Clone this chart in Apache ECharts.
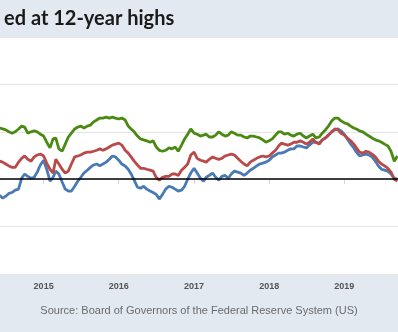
<!DOCTYPE html>
<html>
<head>
<meta charset="utf-8">
<script src="https://cdn.jsdelivr.net/npm/echarts@6/dist/echarts.min.js"></script>
<style>
html,body{margin:0;padding:0;background:#e2e9f1;}
#c{width:398px;height:332px;}
</style>
</head>
<body>
<div id="c"></div>
<script>
var titleText = 'ed at 12-year highs';
var sourceText = 'Source: Board of Governors of the Federal Reserve System (US)';
var yearLabels = ['2015','2016','2017','2018','2019'];

var dates = [
 '2014-06-01','2014-06-16','2014-07-01','2014-07-16','2014-08-01','2014-08-16','2014-09-01','2014-09-16','2014-10-01','2014-10-16','2014-11-01','2014-11-16','2014-12-01','2014-12-16',
 '2015-01-01','2015-01-16','2015-02-01','2015-02-16','2015-03-01','2015-03-16','2015-04-01','2015-04-16','2015-05-01','2015-05-16','2015-06-01','2015-06-16','2015-07-01','2015-07-16','2015-08-01','2015-08-16','2015-09-01','2015-09-16','2015-10-01','2015-10-16','2015-11-01','2015-11-16','2015-12-01','2015-12-16',
 '2016-01-01','2016-01-16','2016-02-01','2016-02-16','2016-03-01','2016-03-16','2016-04-01','2016-04-16','2016-05-01','2016-05-16','2016-06-01','2016-06-16','2016-07-01','2016-07-16','2016-08-01','2016-08-16','2016-09-01','2016-09-16','2016-10-01','2016-10-16','2016-11-01','2016-11-16','2016-12-01','2016-12-16',
 '2017-01-01','2017-01-16','2017-02-01','2017-02-16','2017-03-01','2017-03-16','2017-04-01','2017-04-16','2017-05-01','2017-05-16','2017-06-01','2017-06-16','2017-07-01','2017-07-16','2017-08-01','2017-08-16','2017-09-01','2017-09-16','2017-10-01','2017-10-16','2017-11-01','2017-11-16','2017-12-01','2017-12-16',
 '2018-01-01','2018-01-16','2018-02-01','2018-02-16','2018-03-01','2018-03-16','2018-04-01','2018-04-16','2018-05-01','2018-05-16','2018-06-01','2018-06-16','2018-07-01','2018-07-16','2018-08-01','2018-08-16','2018-09-01','2018-09-16','2018-10-01','2018-10-16','2018-11-01','2018-11-16','2018-12-01','2018-12-16',
 '2019-01-01','2019-01-16','2019-02-01','2019-02-16','2019-03-01','2019-03-16','2019-04-01','2019-04-16','2019-05-01','2019-05-16','2019-06-01','2019-06-16','2019-07-01','2019-07-16','2019-08-01','2019-08-16','2019-09-01','2019-09-16'
];

var greenValues = [
 1.08,1.06,1.04,1.00,0.97,1.00,1.06,1.12,1.10,0.97,1.00,1.02,1.00,0.95,
 0.91,0.78,0.66,0.85,0.87,0.64,0.59,0.74,0.89,0.97,1.06,1.10,1.12,1.08,1.12,1.14,1.21,1.25,1.29,1.29,1.31,1.29,1.31,1.29,
 1.27,1.29,1.25,1.12,1.06,1.00,0.91,0.85,0.83,0.81,0.78,0.81,0.68,0.61,0.59,0.61,0.66,0.64,0.68,0.59,0.72,0.85,0.95,1.06,
 0.97,0.95,0.91,0.93,0.95,0.89,0.89,0.93,1.00,0.95,0.91,0.93,1.00,0.97,0.93,0.93,0.89,0.87,0.91,0.91,0.89,0.87,0.83,0.78,
 0.81,0.85,0.93,1.00,1.00,0.95,0.97,0.93,0.91,0.95,0.97,0.91,0.87,0.91,0.95,0.87,0.89,0.97,1.04,1.12,1.23,1.29,1.29,1.23,
 1.19,1.17,1.12,1.08,1.06,1.02,1.00,0.95,0.91,0.87,0.83,0.81,0.78,0.74,0.70,0.59,0.38,0.49
];

var redValues = [
 0.38,0.36,0.32,0.28,0.25,0.25,0.36,0.44,0.49,0.42,0.38,0.47,0.51,0.53,
 0.49,0.34,0.21,0.13,0.42,0.32,0.21,0.13,0.17,0.32,0.47,0.49,0.51,0.55,0.57,0.57,0.59,0.61,0.64,0.61,0.64,0.68,0.72,0.74,
 0.76,0.72,0.61,0.55,0.47,0.38,0.30,0.23,0.23,0.21,0.19,0.17,0.04,-0.02,0.04,0.06,0.06,0.11,0.11,0.08,0.19,0.25,0.32,0.51,
 0.57,0.44,0.40,0.38,0.36,0.42,0.47,0.44,0.42,0.44,0.49,0.51,0.53,0.51,0.44,0.38,0.32,0.28,0.36,0.40,0.44,0.47,0.49,0.47,
 0.49,0.55,0.61,0.70,0.76,0.74,0.72,0.74,0.78,0.78,0.81,0.78,0.74,0.78,0.85,0.78,0.74,0.83,0.87,0.93,1.00,1.06,1.04,0.97,
 0.93,0.87,0.81,0.74,0.66,0.57,0.55,0.59,0.57,0.53,0.47,0.38,0.32,0.28,0.23,0.15,0.00,-0.04
];

var blueValues = [
 -0.34,-0.40,-0.36,-0.30,-0.28,-0.23,-0.21,0.02,0.11,0.06,0.02,0.04,0.15,0.30,
 0.40,0.21,-0.04,0.04,0.17,0.11,-0.06,-0.21,-0.25,-0.25,-0.15,-0.04,0.04,0.13,0.19,0.25,0.30,0.32,0.28,0.32,0.36,0.42,0.49,0.47,
 0.40,0.32,0.28,0.21,0.11,-0.02,-0.17,-0.19,-0.15,-0.21,-0.25,-0.28,-0.32,-0.42,-0.32,-0.21,-0.15,-0.17,-0.21,-0.25,-0.23,-0.15,0.00,0.13,
 0.23,0.13,0.02,-0.04,0.04,0.08,0.13,0.04,-0.02,0.06,0.08,0.02,0.11,0.17,0.15,0.13,0.08,0.13,0.19,0.23,0.28,0.32,0.34,0.36,
 0.40,0.47,0.51,0.55,0.55,0.57,0.61,0.64,0.64,0.70,0.70,0.68,0.66,0.72,0.78,0.78,0.76,0.83,0.87,0.93,1.00,1.04,1.06,1.02,
 0.95,0.85,0.74,0.66,0.57,0.49,0.51,0.53,0.51,0.47,0.38,0.28,0.21,0.19,0.17,0.11,0.02,0.00
];

function pairs(vals){ return vals.map(function(v,i){ return [dates[i], v]; }); }

var chart = echarts.init(document.getElementById('c'), null, {renderer:'canvas'});
var DAY = 24*3600*1000;
chart.setOption({
  animation: false,
  backgroundColor: '#e2e9f1',
  title: {
    text: titleText, left: -1, top: 4,
    textStyle: {fontFamily: 'Lato', fontWeight: 'bold', fontSize: 20, color: '#1a1a1a'}
  },
  graphic: [{
    type: 'text', left: 'center', top: 305,
    style: {text: sourceText, fill: '#6b6b6b', font: '11px "Liberation Sans", Arial, sans-serif'}
  }],
  grid: {left: 0, right: 0, top: 37, bottom: 58, show: true, backgroundColor: '#ffffff', borderWidth: 0},
  xAxis: {
    type: 'time',
    min: '2014-06-03', max: '2019-09-19',
    minInterval: 365*DAY, maxInterval: 366*DAY,
    axisLine: {show: false},
    axisTick: {show: true, length: 5, lineStyle: {color: '#ccd6eb'}},
    splitLine: {show: false},
    axisLabel: {
      margin: 8, color: '#555', fontSize: 9, fontWeight: 'bold',
      fontFamily: '"Liberation Sans", Arial, sans-serif',
      formatter: function(val){
        var y = String(new Date(val).getUTCFullYear());
        return yearLabels.indexOf(y) >= 0 ? y : '';
      }
    }
  },
  yAxis: {
    type: 'value', min: -2, max: 3, interval: 1,
    axisLabel: {show: false}, axisLine: {show: false}, axisTick: {show: false},
    splitLine: {lineStyle: {color: '#e6e6e6', width: 1}}
  },
  series: [
    {type: 'line', data: [], z: 1, silent: true,
     markLine: {silent: true, symbol: 'none', label: {show: false},
       lineStyle: {color: '#000', width: 1.5, type: 'solid'}, data: [{yAxis: 0}]}},
    {type: 'line', data: pairs(blueValues), showSymbol: false, z: 2,
     lineStyle: {color: '#4a7ab5', width: 2.8}, itemStyle: {color: '#4a7ab5'}},
    {type: 'line', data: pairs(redValues), showSymbol: false, z: 3,
     lineStyle: {color: '#b84a4a', width: 2.8}, itemStyle: {color: '#b84a4a'}},
    {type: 'line', data: pairs(greenValues), showSymbol: false, z: 4,
     lineStyle: {color: '#4a8a12', width: 2.8}, itemStyle: {color: '#4a8a12'}}
  ]
});
</script>
</body>
</html>
